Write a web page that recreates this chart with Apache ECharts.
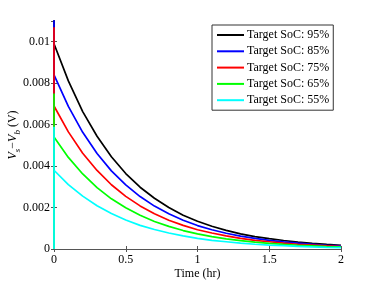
<!DOCTYPE html>
<html>
<head>
<meta charset="utf-8">
<script src="https://cdn.jsdelivr.net/npm/echarts@6/dist/echarts.min.js"></script>
<style>html,body{margin:0;padding:0;background:#fff;}#c{width:374px;height:281px;}</style>
</head>
<body>
<div id="c"></div>
<script>
var timeHr = [0,0.1,0.2,0.3,0.4,0.5,0.6,0.7,0.8,0.9,1.0,1.1,1.2,1.3,1.4,1.5,1.6,1.7,1.8,1.9,2.0];
var seriesNames = ['Target SoC: 95%','Target SoC: 85%','Target SoC: 75%','Target SoC: 65%','Target SoC: 55%'];
var soc95 = [0.00990,0.00811,0.00663,0.00544,0.00445,0.00364,0.00298,0.00245,0.00200,0.00163,0.00134,0.00110,0.00090,0.00073,0.00060,0.00050,0.00041,0.00033,0.00027,0.00022,0.00018];
var soc85 = [0.00840,0.00688,0.00563,0.00461,0.00377,0.00309,0.00253,0.00207,0.00170,0.00139,0.00113,0.00093,0.00076,0.00062,0.00051,0.00042,0.00034,0.00028,0.00023,0.00018,0.00015];
var soc75 = [0.00690,0.00565,0.00462,0.00379,0.00310,0.00254,0.00208,0.00170,0.00139,0.00114,0.00093,0.00077,0.00063,0.00051,0.00042,0.00035,0.00028,0.00023,0.00019,0.00015,0.00012];
var soc65 = [0.00540,0.00442,0.00362,0.00296,0.00242,0.00199,0.00163,0.00133,0.00109,0.00089,0.00073,0.00060,0.00049,0.00040,0.00033,0.00027,0.00022,0.00018,0.00015,0.00012,0.00010];
var soc55 = [0.00380,0.00311,0.00255,0.00209,0.00171,0.00140,0.00114,0.00094,0.00077,0.00063,0.00051,0.00042,0.00035,0.00028,0.00023,0.00019,0.00016,0.00013,0.00010,0.00008,0.00007];
var spikePeaks = [0.0130,0.0125,0.0107,0.0075,0.0059];
var seriesColors = ['#000000','#0000ff','#ff0000','#00ff00','#00ffff'];
var xTickLabels = ['0','0.5','1','1.5','2'];
var yTickLabels = ['0','0.002','0.004','0.006','0.008','0.01'];

var allValues = [soc95, soc85, soc75, soc65, soc55];
var chart = echarts.init(document.getElementById('c'), null, {renderer:'canvas'});
var font = 'Liberation Serif';
var axisColor = '#555';

var series = allValues.map(function(vals, i){
  var data = [[0,0],[0,spikePeaks[i]]];
  vals.forEach(function(v, j){ data.push([timeHr[j], v]); });
  return {
    name: seriesNames[i], type:'line', data:data, symbol:'none', showSymbol:false, clip:true,
    xAxisIndex:0, yAxisIndex:0,
    lineStyle:{color:seriesColors[i], width:1.7}, itemStyle:{color:seriesColors[i]},
    animation:false, z: 2+i
  };
});

function xLab(v){ var k = Math.round(v/0.5); return xTickLabels[k] !== undefined ? xTickLabels[k] : ''; }
function yLab(v){ var k = Math.round(v/0.002); return yTickLabels[k] !== undefined ? yTickLabels[k] : ''; }

chart.setOption({
  animation:false,
  grid:{left:54, right:33, top:21, bottom:32, show:false, containLabel:false, outerBoundsMode:'none'},
  legend:{
    orient:'vertical', left:212, top:25, width:121,
    itemWidth:27, itemHeight:10, itemGap:4.3,
    padding:[4,4,4,4],
    backgroundColor:'#fff', borderColor:'#333', borderWidth:1,
    itemStyle:{opacity:0},
    textStyle:{fontFamily:font, fontSize:12, color:'#000', padding:[0,0,0,-2]},
    data: seriesNames
  },
  xAxis:[{
    type:'value', min:0, max:2, interval:0.5, position:'bottom',
    name:'Time (hr)', nameLocation:'middle', nameGap:19, nameMoveOverlap:false,
    nameTextStyle:{fontFamily:font, fontSize:12, color:'#000'},
    axisLine:{show:true, lineStyle:{color:axisColor, width:1}},
    axisTick:{show:true, inside:true, length:3, lineStyle:{color:axisColor}},
    axisLabel:{fontFamily:font, fontSize:12, color:'#000', margin:5, formatter:xLab},
    splitLine:{show:false}
  },{
    type:'value', min:0, max:2, interval:0.5, position:'top',
    axisLine:{show:true, lineStyle:{color:axisColor, width:1}},
    axisTick:{show:true, inside:true, length:3, lineStyle:{color:axisColor}},
    axisLabel:{show:false}, splitLine:{show:false}
  }],
  yAxis:[{
    type:'value', min:0, max:0.011, interval:0.002, position:'left',
    name:'{i|V}{sub|s}{n|\u2212}{i|V}{sub|b}{n| (V)}', nameLocation:'middle', nameGap:32, nameMoveOverlap:false,
    nameTextStyle:{fontFamily:font, fontSize:12, color:'#000',
      rich:{
        i:{fontFamily:font, fontSize:12, fontStyle:'italic', color:'#000'},
        n:{fontFamily:font, fontSize:12, color:'#000'},
        sub:{fontFamily:font, fontSize:9, fontStyle:'italic', color:'#000', padding:[9,0,0,0]}
      }},
    axisLine:{show:true, lineStyle:{color:axisColor, width:1}},
    axisTick:{show:true, inside:true, length:3, lineStyle:{color:axisColor}},
    axisLabel:{fontFamily:font, fontSize:12, color:'#000', margin:4, showMaxLabel:false, formatter:yLab},
    splitLine:{show:false}
  },{
    type:'value', min:0, max:0.011, interval:0.002, position:'right',
    axisLine:{show:true, lineStyle:{color:axisColor, width:1}},
    axisTick:{show:true, inside:true, length:3, lineStyle:{color:axisColor}},
    axisLabel:{show:false}, splitLine:{show:false}
  }],
  series: series
});
</script>
</body>
</html>
